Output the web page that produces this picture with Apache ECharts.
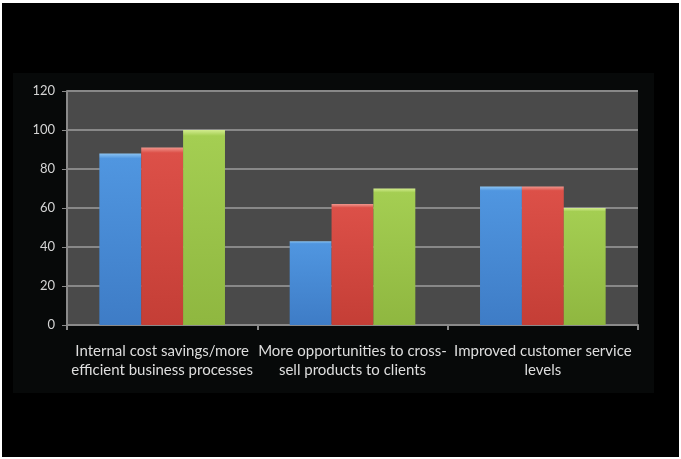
<!DOCTYPE html>
<html>
<head>
<meta charset="utf-8">
<script src="https://cdn.jsdelivr.net/npm/echarts@6/dist/echarts.min.js"></script>
<style>
  html, body { margin: 0; padding: 0; background: #fff; }
  #chart { width: 681px; height: 459px; }
</style>
</head>
<body>
<div id="chart"></div>
<script>
// data
const categories = [
  'Internal cost savings/more efficient business processes',
  'More opportunities to cross-sell products to clients',
  'Improved customer service levels'
];
const tickLabels = [
  'Internal cost savings/more\nefficient business processes',
  'More opportunities to cross-\nsell products to clients',
  'Improved customer service\nlevels'
];
const blueValues = [88, 43, 71];
const redValues = [91, 62, 71];
const greenValues = [100, 70, 60];

const chart = echarts.init(document.getElementById('chart'));

function barFill(top, mid, bottom) {
  return new echarts.graphic.LinearGradient(0, 0, 0, 1, [
    { offset: 0, color: top },
    { offset: 0.03, color: mid },
    { offset: 1, color: bottom }
  ]);
}

const option = {
  animation: false,
  graphic: [
    { type: 'rect', z: -10, shape: { x: 2, y: 3, width: 677, height: 454 }, style: { fill: '#000' } },
    { type: 'rect', z: -9, shape: { x: 13, y: 73, width: 641, height: 320 }, style: { fill: '#070909' } }
  ],
  grid: {
    left: 67, top: 91, width: 571, height: 234,
    show: true, backgroundColor: '#4a4a4a', borderWidth: 0
  },
  xAxis: {
    type: 'category',
    data: categories,
    axisLine: { lineStyle: { color: '#8a8a8a', width: 2 } },
    axisTick: { show: true, length: 5, lineStyle: { color: '#8a8a8a', width: 2 } },
    axisLabel: {
      interval: 0,
      margin: 17,
      color: '#dedede',
      fontFamily: 'Lato',
      fontSize: 15,
      lineHeight: 19,
      formatter: (v, i) => tickLabels[i]
    }
  },
  yAxis: {
    type: 'value',
    min: 0, max: 120, interval: 20,
    axisLine: { show: true, lineStyle: { color: '#8a8a8a', width: 2 } },
    axisTick: { show: true, length: 5, lineStyle: { color: '#8a8a8a' } },
    axisLabel: { color: '#d4d4d4', fontFamily: 'Lato', fontSize: 13, margin: 12 },
    splitLine: { lineStyle: { color: '#888888', width: 2 } }
  },
  series: [
    {
      type: 'bar', data: blueValues, barWidth: '22%', barGap: '0%',
      itemStyle: { color: barFill('#8cc4f2', '#5096e0', '#3e7cc6') }
    },
    {
      type: 'bar', data: redValues, barWidth: '22%', barGap: '0%',
      itemStyle: { color: barFill('#f0958c', '#dc5048', '#c43e36') }
    },
    {
      type: 'bar', data: greenValues, barWidth: '22%', barGap: '0%',
      itemStyle: { color: barFill('#d2ec8e', '#a4ce52', '#8fb740') }
    }
  ]
};

chart.setOption(option);
</script>
</body>
</html>
